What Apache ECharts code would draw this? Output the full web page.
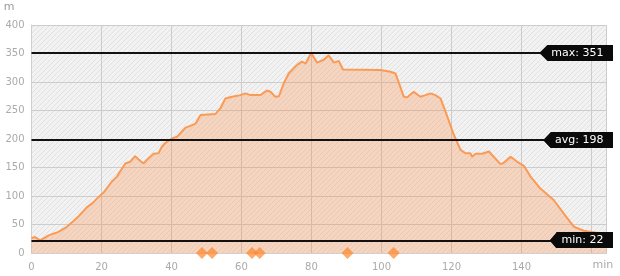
<!DOCTYPE html>
<html>
<head>
<meta charset="utf-8">
<script src="https://cdn.jsdelivr.net/npm/echarts@6.0.0/dist/echarts.min.js"></script>
<style>
html,body{margin:0;padding:0;background:#fff;}
#c{width:620px;height:276px;}
</style>
</head>
<body>
<div id="c"></div>
<script>
// ---- data ----
var times = [0,1,2.5,4.9,7.7,10.1,12,13.4,15.8,17.5,19.1,20.6,22.9,24.4,26.8,28.2,29.6,30.6,32,33.4,34.9,36.3,37.2,38.2,40.2,41.6,44,45.4,46.9,48.3,52.6,54,55.4,57.3,59.7,61.1,62.6,65.4,67.3,68.3,69.7,70.7,72.1,73.5,74.9,75.9,77.3,78.3,79.9,81.6,83.5,84.9,86.4,87.8,89,99.7,102.6,104,106.4,107.3,109.2,111.1,112.6,114,115.4,116.9,118.3,120.7,122.6,124,125.4,125.9,126.9,128.8,130.7,131.6,134,134.9,136.9,138.8,140.7,142.6,145.4,149.2,152,155,157.8,160,162,164.3];
var elevation = [26,28,22,31,37,46,56,64,80,88,98,106,125,134,157,160,170,164,157,166,174,175,186,193,201,204,220,223,227,242,244,254,271,274,277,280,277,277,285,283,274,275,298,315,324,330,336,332,351,334,339,347,334,337,322,321,318,315,274,273,283,274,277,280,277,271,248,207,181,175,175,169,174,174,178,172,156,158,169,160,153,134,113,93,70,46,39,37,35,33];
var markerTimes = [48.7,51.6,63.0,65.2,90.3,103.5];
var refNames = ['max','avg','min'];
var refValues = [351,198,22];
var xTickLabels = [0,20,40,60,80,100,120,140];
var yTickLabels = [0,50,100,150,200,250,300,350,400];

// ---- patterns ----
function hatch(bg, line, size){
  var c = document.createElement('canvas');
  c.width = size; c.height = size;
  var g = c.getContext('2d');
  g.fillStyle = bg; g.fillRect(0,0,size,size);
  g.strokeStyle = line; g.lineWidth = 1;
  g.beginPath();
  g.moveTo(0,size); g.lineTo(size,0);
  g.moveTo(-1,1); g.lineTo(1,-1);
  g.moveTo(size-1,size+1); g.lineTo(size+1,size-1);
  g.stroke();
  return c;
}
function tag(){
  var c = document.createElement('canvas');
  c.width = 146; c.height = 32;
  var g = c.getContext('2d');
  g.fillStyle = '#0a0a0a';
  g.beginPath();
  g.moveTo(0,16); g.lineTo(16,0); g.lineTo(146,0); g.lineTo(146,32); g.lineTo(16,32);
  g.closePath(); g.fill();
  return c;
}
var bgPattern = {image: hatch('#f2f2f2','#e1e1e1',5), repeat: 'repeat'};
var tagImg = tag();

var line = times.map(function(t,i){ return [t, elevation[i]]; });
var markers = markerTimes.map(function(t){ return [t, 0]; });
var refData = refNames.map(function(n,i){ return {name:n, yAxis: refValues[i]}; });

var chart = echarts.init(document.getElementById('c'), null, {renderer:'canvas'});
chart.setOption({
  animation: false,
  grid: {left: 31.5, right: 13.5, top: 25, bottom: 23, show: true, backgroundColor: bgPattern, borderWidth: 0,
         containLabel: false, outerBoundsMode: 'none'},
  xAxis: {
    type: 'value', min: 0, max: 164.3, interval: 20,
    name: 'min', nameLocation: 'end', nameGap: -14, nameMoveOverlap: false,
    nameTextStyle: {color:'#aaa', fontSize: 11, fontFamily:'DejaVu Sans', verticalAlign:'top', padding:[7,0,0,0]},
    axisLine: {show: true, lineStyle: {color:'#cfcfcf', width: 1}},
    axisTick: {show: false},
    axisLabel: {color:'#aaa', fontSize: 10, fontFamily:'DejaVu Sans', margin: 9, showMaxLabel: false,
      formatter: function(v){ return xTickLabels.indexOf(v) >= 0 ? String(v) : ''; }},
    splitLine: {show: true, lineStyle: {color:'#cccccc', width: 1}}
  },
  yAxis: {
    type: 'value', min: 0, max: 400, interval: 50,
    name: 'm', nameLocation: 'end', nameGap: 12, nameMoveOverlap: false,
    nameTextStyle: {color:'#999', fontSize: 11, fontFamily:'DejaVu Sans', align:'right', padding:[0,17,0,0]},
    axisLine: {show: true, lineStyle: {color:'#cfcfcf', width: 1}},
    axisTick: {show: false},
    axisLabel: {color:'#aaa', fontSize: 10, fontFamily:'DejaVu Sans', margin: 7,
      formatter: function(v){ return yTickLabels.indexOf(v) >= 0 ? String(v) : ''; }},
    splitLine: {show: true, lineStyle: {color:'#cccccc', width: 1}}
  },
  series: [
    {
      type: 'line', data: line, showSymbol: false, symbol: 'none', clip: true,
      lineStyle: {color: '#fb9a55', width: 2},
      areaStyle: {color: 'rgba(255,135,55,0.38)', origin: 'start'},
      z: 2,
      markLine: {
        silent: true, symbol: 'none', animation: false,
        lineStyle: {color:'#111', width: 2, type:'solid'},
        label: {
          show: true, position: 'end', align: 'right', distance: [6, 0],
          formatter: function(p){ return p.name + ': ' + p.value; },
          color: '#fff', fontSize: 11, fontFamily: 'DejaVu Sans',
          backgroundColor: {image: tagImg}, padding: [2, 9, 2, 12], lineHeight: 12
        },
        emphasis: {disabled: true},
        data: refData
      }
    },
    {
      type: 'scatter', data: markers, symbol: 'diamond', symbolSize: 12, clip: false,
      itemStyle: {color: 'rgba(255,130,35,0.85)'}, z: 5
    }
  ]
});
</script>
</body>
</html>
